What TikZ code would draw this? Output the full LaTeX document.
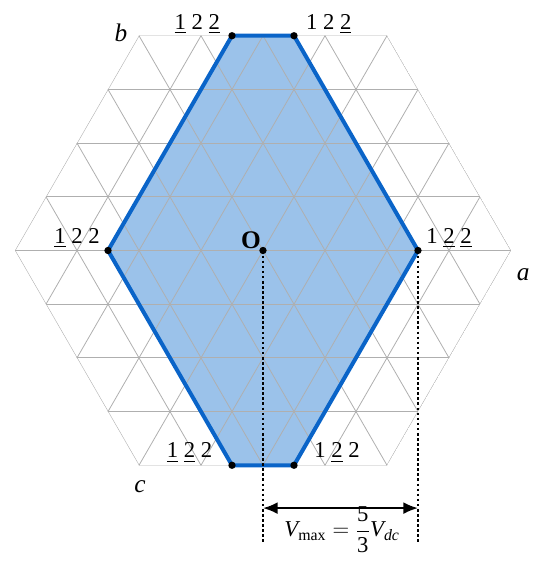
\documentclass[tikz,border=0pt]{standalone}
\usepackage{fontspec}
\usepackage{amsmath}
\setmainfont{Liberation Serif}
\usetikzlibrary{arrows.meta}
\definecolor{hexfill}{RGB}{155,194,234}
\definecolor{hexedge}{RGB}{10,100,200}
\definecolor{gridgray}{RGB}{175,175,175}
\tikzset{
  gridline/.style={draw=gridgray, line width=0.6pt},
  boundary/.style={draw=hexedge, line width=3pt, line join=round},
  vdot/.style={circle, fill=black, inner sep=0pt, minimum size=5.5pt},
  vlabel/.style={font=\fontsize{17}{20}\selectfont, inner sep=0pt, anchor=base},
  axislabel/.style={font=\fontsize{19}{22}\selectfont\itshape, inner sep=0pt},
  dotline/.style={line width=1.8pt, dash pattern=on 2pt off 1.8pt},
  dimarrow/.style={line width=1.6pt, {Latex[length=11pt,width=9pt]}-{Latex[length=11pt,width=9pt]}}
}
\begin{document}
\begin{tikzpicture}[x=23.25pt,y=23.25pt]
\pgfmathsetmacro{\h}{0.8660254}
\useasboundingbox (-8.484,8.081) rectangle (8.742,-10.339);
% shaded region
\fill[hexfill] (-1,8*\h) -- (1,8*\h) -- (5,0) -- (1,-8*\h) -- (-1,-8*\h) -- (-5,0) -- cycle;
% grid clipped to hexagon
\begin{scope}
\clip (8,0) -- (4,8*\h) -- (-4,8*\h) -- (-8,0) -- (-4,-8*\h) -- (4,-8*\h) -- cycle;
\foreach \k in {-4,...,4} {
  \draw[gridline] (-9,2*\k*\h) -- (9,2*\k*\h);
}
\foreach \m in {-8,...,8} {
  \draw[gridline] ({2*\m-5},-10*\h) -- ({2*\m+5},10*\h);
  \draw[gridline] ({2*\m+5},-10*\h) -- ({2*\m-5},10*\h);
}
\end{scope}
% boundary of reachable region
\draw[boundary] (-1,8*\h) -- (1,8*\h) -- (5,0) -- (1,-8*\h) -- (-1,-8*\h) -- (-5,0) -- cycle;
% vertices
\node[vdot] (pA) at (-1,8*\h) {};
\node[vdot] (pB) at (1,8*\h) {};
\node[vdot] (pC) at (5,0) {};
\node[vdot] (pD) at (1,-8*\h) {};
\node[vdot] (pE) at (-1,-8*\h) {};
\node[vdot] (pF) at (-5,0) {};
\node[vdot] (pO) at (0,0) {};
% vertex labels
\node[vlabel] (lA) at (-2.12,7.13) {\underline{1} 2 \underline{2}};
\node[vlabel] (lB) at (2.12,7.13) {1 2 \underline{2}};
\node[vlabel] (lF) at (-6.0,0.24) {\underline{1} 2 2};
\node[vlabel] (lC) at (6.0,0.24) {1 \underline{2} \underline{2}};
\node[vlabel] (lE) at (-2.37,-6.69) {\underline{1} \underline{2} 2};
\node[vlabel] (lD) at (2.39,-6.69) {1 \underline{2} 2};
\node[font=\fontsize{19}{20}\selectfont\bfseries, inner sep=0pt] (lO) at (-0.39,0.34) {O};
% axis labels
\node[axislabel] (ab) at (-4.58,7.02) {b};
\node[axislabel] (aa) at (8.39,-0.79) {a};
\node[axislabel] (ac) at (-3.97,-7.63) {c};
% dimension
\coordinate (bO) at (0,-9.40);
\coordinate (bC) at (5,-9.40);
\coordinate (mO) at (0,-8.31);
\coordinate (mC) at (5,-8.31);
\draw[dotline] (pO.center) -- (bO);
\draw[dotline] (pC.center) -- (bC);
\draw[dimarrow] (mO) -- (mC);
\node[font=\fontsize{17}{20}\selectfont, inner sep=0pt, anchor=base] (fm) at (2.55,-9.24)
  {$\textit{V}_{\text{max}} = \dfrac{\text{5}}{\text{3}}\textit{V}_{\textit{dc}}$};
\end{tikzpicture}
\end{document}
